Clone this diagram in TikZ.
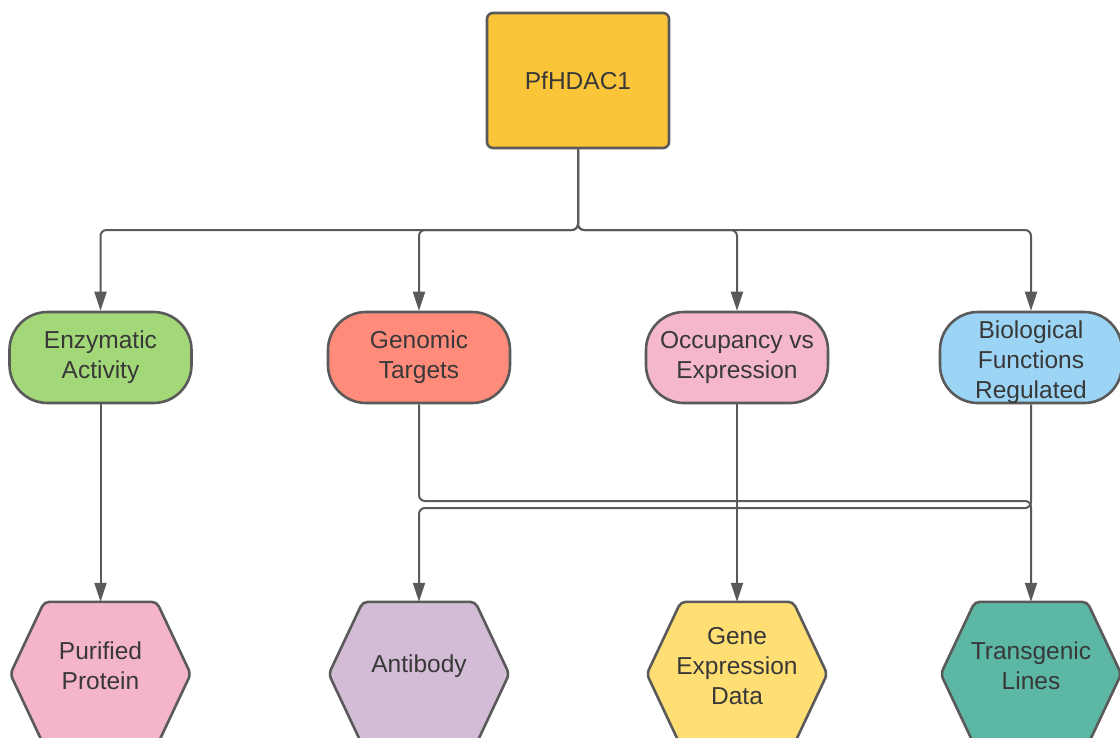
\documentclass[tikz,border=0pt]{standalone}
\usepackage{fontspec}
\setmainfont{Liberation Sans}
\usetikzlibrary{arrows.meta,calc}
\definecolor{edge}{HTML}{5A5A5A}
\definecolor{txtc}{HTML}{383838}
\definecolor{cPf}{HTML}{FBC53A}
\definecolor{cEnz}{HTML}{A2D877}
\definecolor{cGen}{HTML}{FF8B7B}
\definecolor{cOcc}{HTML}{F5B7CB}
\definecolor{cBio}{HTML}{9BD4F5}
\definecolor{cPur}{HTML}{F5B5C8}
\definecolor{cAnt}{HTML}{D3BCD5}
\definecolor{cGed}{HTML}{FFDE73}
\definecolor{cTra}{HTML}{5CB8A4}
\tikzset{
  lbl/.style={text=txtc, align=center, font=\fontsize{24.5pt}{30pt}\selectfont},
  topbox/.style={lbl, draw=edge, line width=2.6pt, rounded corners=6pt, minimum width=182pt, minimum height=135pt, inner sep=0pt},
  pill/.style={lbl, draw=edge, line width=2.6pt, rounded corners=38pt, minimum width=182pt, minimum height=91pt, inner sep=0pt},
  hexframe/.style={minimum width=180pt, minimum height=144pt, inner sep=0pt},
  hexline/.style={draw=edge, line width=2.6pt, rounded corners=5pt},
  arr/.style={draw=edge, line width=2pt, rounded corners=6pt, -{Triangle[length=19pt,width=12pt]}},
}
\newcommand{\hexdraw}[2]{%
  \path[hexline, fill=#2] (#1.west) -- ($(#1.north west)+(34,0)$) -- ($(#1.north east)+(-34,0)$)
    -- (#1.east) -- ($(#1.south east)+(-34,0)$) -- ($(#1.south west)+(34,0)$) -- cycle;}
\begin{document}
\begin{tikzpicture}[x=1pt,y=-1pt]
\useasboundingbox (0,0) rectangle (1120,737);
\fill[white] (0,0) rectangle (1120,737);

% top
\node[topbox, fill=cPf] (pf) at (578,80.5) {PfHDAC1};

% middle row
\node[pill, fill=cEnz] (enz) at (100.5,357.5) {Enzymatic\\Activity};
\node[pill, fill=cGen] (gen) at (419,357.5) {Genomic\\Targets};
\node[pill, fill=cOcc] (occ) at (737,357.5) {Occupancy vs\\Expression};
\node[pill, fill=cBio] (bio) at (1031,357.5) {};
\node[lbl] (biot) at (1031,362) {Biological\\Functions\\Regulated};

% bottom row (hexagons)
\node[hexframe] (pur) at (100.5,674) {};
\node[hexframe] (ant) at (419,674) {};
\node[hexframe] (ged) at (737,674) {};
\node[hexframe] (tra) at (1031,674) {};
\hexdraw{pur}{cPur}
\hexdraw{ant}{cAnt}
\hexdraw{ged}{cGed}
\hexdraw{tra}{cTra}
\node[lbl] (purt) at ($(pur)+(0,-8)$) {Purified\\Protein};
\node[lbl] (antt) at ($(ant)+(0,-8)$) {Antibody};
\node[lbl] (gedt) at ($(ged)+(0,-8)$) {Gene\\Expression\\Data};
\node[lbl] (trat) at ($(tra)+(0,-8)$) {Transgenic\\Lines};

% connectors from top
\coordinate (bus) at (578,230);
\coordinate (hA) at (0,501);
\coordinate (hB) at (0,508);
\draw[arr] (pf.south) -- (bus) -| (enz.north);
\draw[arr] (pf.south) -- (bus) -| (gen.north);
\draw[arr] (pf.south) -- (bus) -| (occ.north);
\draw[arr] (pf.south) -- (bus) -| (bio.north);

% connectors to bottom
\draw[arr] (enz.south) -- (pur.north);
\draw[arr] (occ.south) -- (ged.north);
\draw[arr] (gen.south) |- (hA -| tra.north) -- (tra.north);
\draw[arr] (bio.south) |- (hB -| ant.north) -- (ant.north);
\end{tikzpicture}
\end{document}
